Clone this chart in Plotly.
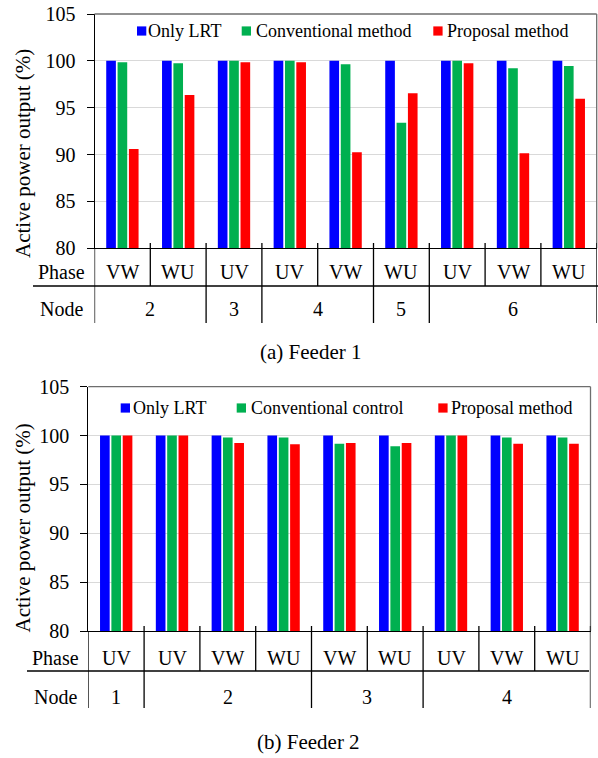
import plotly.graph_objects as go

W, H = 598, 758

# ---- data -------------------------------------------------------------
series_a = ["Only LRT", "Conventional method", "Proposal method"]
series_b = ["Only LRT", "Conventional control", "Proposal method"]
colors = ["#0000FF", "#00B050", "#FF0000"]

phase_a = ["VW", "WU", "UV", "UV", "VW", "WU", "UV", "VW", "WU"]
node_a = ["2", "2", "3", "4", "4", "5", "6", "6", "6"]
lrt_a = [100, 100, 100, 100, 100, 100, 100, 100, 100]
conv_a = [99.85, 99.75, 100, 100, 99.65, 93.4, 100, 99.2, 99.45]
prop_a = [90.6, 96.35, 99.85, 99.85, 90.25, 96.55, 99.75, 90.15, 95.95]

phase_b = ["UV", "UV", "VW", "WU", "VW", "WU", "UV", "VW", "WU"]
node_b = ["1", "2", "2", "2", "3", "3", "4", "4", "4"]
lrt_b = [100, 100, 100, 100, 100, 100, 100, 100, 100]
conv_b = [100, 100, 99.8, 99.8, 99.15, 98.9, 100, 99.8, 99.8]
prop_b = [100, 100, 99.25, 99.1, 99.25, 99.25, 100, 99.15, 99.15]

y_ticks = [80, 85, 90, 95, 100, 105]
captions = ["(a) Feeder 1", "(b) Feeder 2"]
y_title = "Active power output (%)"

FONT = "Liberation Serif"


def px(x):
    return x / W


def py(y):
    return 1 - y / H


fig = go.Figure()

panels = [
    dict(xa="x", ya="y", names=series_a, vals=[lrt_a, conv_a, prop_a],
         phase=phase_a, node=node_a,
         xdom=(94.5, 596.7), ydom=(14, 248.3),
         leg_sq=[137, 241.7, 433.3], leg_tx=[148, 255.5, 446.7], leg_y=31,
         hline=(33, 598, 286), short_top=243, short_bot=286, long_bot=323,
         phase_y=272, node_y=309, lab_x=61, ytitle=(23, 154), cap=(310, 352)),
    dict(xa="x2", ya="y2", names=series_b, vals=[lrt_b, conv_b, prop_b],
         phase=phase_b, node=node_b,
         xdom=(88.3, 590.5), ydom=(386.7, 631),
         leg_sq=[120.7, 236.7, 438.3], leg_tx=[133.3, 250.7, 450.7], leg_y=408,
         hline=(27, 589, 671), short_top=626, short_bot=671, long_bot=708,
         phase_y=657.7, node_y=697, lab_x=56, ytitle=(22.5, 528), cap=(308, 742)),
]

shapes = []
annotations = []

for k, p in enumerate(panels):
    xs = list(range(len(p["phase"])))
    for name, vals, col in zip(p["names"], p["vals"], colors):
        fig.add_trace(go.Bar(
            x=xs, y=vals, name=name, xaxis=p["xa"], yaxis=p["ya"],
            marker=dict(color=col, line=dict(width=0)),
            showlegend=False, hoverinfo="x+y+name",
        ))

    suffix = "" if k == 0 else "2"
    xdom = [px(p["xdom"][0]), px(p["xdom"][1])]
    ydom = [py(p["ydom"][1]), py(p["ydom"][0])]
    fig.update_layout(**{
        "xaxis" + suffix: dict(
            domain=xdom, range=[-0.5, len(xs) - 0.5], showticklabels=False,
            showgrid=False, zeroline=False, showline=True, linecolor="#000000",
            linewidth=1, ticks="", anchor="y" + suffix, fixedrange=True,
            automargin=False,
        ),
        "yaxis" + suffix: dict(
            domain=ydom, range=[80, 105], tickvals=y_ticks, showgrid=True,
            gridcolor="#D9D9D9", gridwidth=1, zeroline=False, showline=True,
            linecolor="#000000", linewidth=1, ticks="outside", ticklen=7,
            tickcolor="#000000", ticklabelstandoff=7,
            tickfont=dict(family=FONT, size=20, color="#000000"),
            anchor="x" + suffix, fixedrange=True, automargin=False,
        ),
    })

    # plot-area frame (top and right edges)
    xref_d, yref_d = p["xa"] + " domain", p["ya"] + " domain"
    shapes.append(dict(type="line", xref=xref_d, yref=yref_d, x0=0, x1=1, y0=1, y1=1,
                       line=dict(color="#6E6E6E", width=1.3)))
    shapes.append(dict(type="line", xref=xref_d, yref=yref_d, x0=1, x1=1, y0=0, y1=1,
                       line=dict(color="#6E6E6E", width=1.3)))

    # legend drawn inside the plot area
    for i, (name, col) in enumerate(zip(p["names"], colors)):
        sx = p["leg_sq"][i]
        shapes.append(dict(type="rect", xref="paper", yref="paper",
                           x0=px(sx), x1=px(sx + 9.3),
                           y0=py(p["leg_y"] + 4.6), y1=py(p["leg_y"] - 4.6),
                           fillcolor=col, line=dict(width=0)))
        annotations.append(dict(text=name, xref="paper", yref="paper",
                                x=px(p["leg_tx"][i] - 2), y=py(p["leg_y"]),
                                xanchor="left", yanchor="middle", showarrow=False,
                                font=dict(family=FONT, size=18, color="#000000")))

    # phase / node table under the bars
    x0l, x1l, yl = p["hline"]
    shapes.append(dict(type="line", xref="paper", yref="paper",
                       x0=px(x0l), x1=px(x1l), y0=py(yl), y1=py(yl),
                       line=dict(color="#000000", width=1.3)))
    node_bounds = [i for i in range(1, len(xs)) if p["node"][i] != p["node"][i - 1]]
    for b in range(0, len(xs) + 1):
        is_long = b in node_bounds or b == 0 or b == len(xs)
        top = p["ydom"][1] if b == 0 else p["short_top"]
        bot = p["long_bot"] if is_long else p["short_bot"]
        shapes.append(dict(type="line", xref=p["xa"], yref="paper",
                           x0=b - 0.5, x1=b - 0.5, y0=py(top), y1=py(bot),
                           line=dict(color="#000000", width=1.3)))

    for i, ph in enumerate(p["phase"]):
        annotations.append(dict(text=ph, xref=p["xa"], yref="paper", x=i,
                                y=py(p["phase_y"]), xanchor="center", yanchor="middle",
                                showarrow=False,
                                font=dict(family=FONT, size=20, color="#000000")))
    # node labels centred over their runs of phases
    start = 0
    for i in range(1, len(xs) + 1):
        if i == len(xs) or p["node"][i] != p["node"][start]:
            annotations.append(dict(text=p["node"][start], xref=p["xa"], yref="paper",
                                    x=(start + i - 1) / 2, y=py(p["node_y"]),
                                    xanchor="center", yanchor="middle", showarrow=False,
                                    font=dict(family=FONT, size=20, color="#000000")))
            start = i

    for txt, ty in (("Phase", p["phase_y"]), ("Node", p["node_y"])):
        annotations.append(dict(text=txt, xref="paper", yref="paper", x=px(p["lab_x"]),
                                y=py(ty), xanchor="center", yanchor="middle",
                                showarrow=False,
                                font=dict(family=FONT, size=20, color="#000000")))

    annotations.append(dict(text=y_title, xref="paper", yref="paper",
                            x=px(p["ytitle"][0]), y=py(p["ytitle"][1]), textangle=-90,
                            xanchor="center", yanchor="middle", showarrow=False,
                            font=dict(family=FONT, size=21, color="#000000")))
    annotations.append(dict(text=captions[k], xref="paper", yref="paper",
                            x=px(p["cap"][0]), y=py(p["cap"][1]),
                            xanchor="center", yanchor="middle", showarrow=False,
                            font=dict(family=FONT, size=21, color="#000000")))

fig.update_layout(
    width=W, height=H,
    margin=dict(l=0, r=0, t=0, b=0, pad=0, autoexpand=False),
    paper_bgcolor="#FFFFFF", plot_bgcolor="#FFFFFF",
    barmode="group", bargap=0.39, bargroupgap=0.15,
    showlegend=False, shapes=shapes, annotations=annotations,
    font=dict(family=FONT, color="#000000"),
)

fig.write_html("out.html", config={"displayModeBar": False})
